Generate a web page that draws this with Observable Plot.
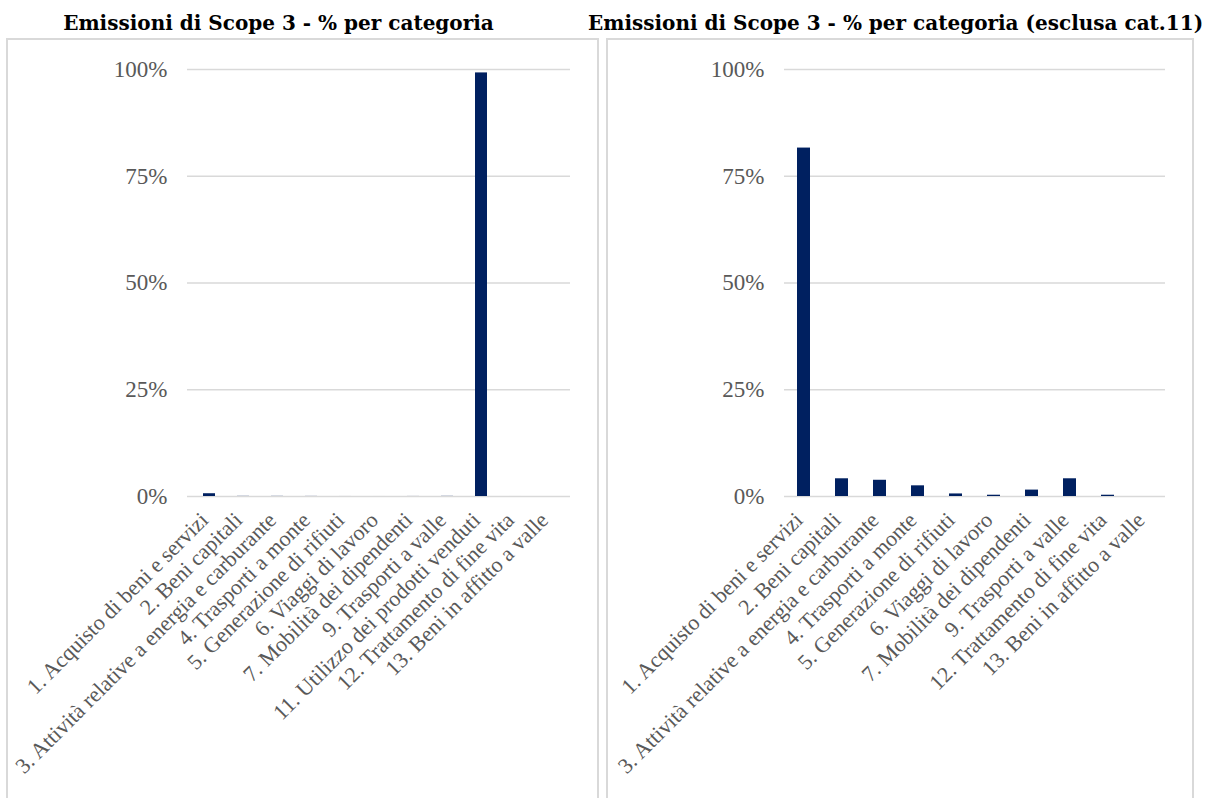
<!DOCTYPE html>
<html>
<head>
<meta charset="utf-8">
<script src="https://cdn.jsdelivr.net/npm/d3@7"></script>
<script src="https://cdn.jsdelivr.net/npm/@observablehq/plot@0.6"></script>
<style>
  html, body { margin: 0; padding: 0; background: #fff; }
  #root { position: relative; width: 1205px; height: 798px; overflow: hidden; background: #fff; }
  .title { position: absolute; top: 11px; font-family: "DejaVu Serif", serif; font-weight: bold; font-size: 20px; color: #000; white-space: nowrap; text-align: center; }
  .panel { position: absolute; top: 38px; border: 2px solid #d9d9d9; border-bottom: none; box-sizing: border-box; height: 770px; overflow: hidden; }
  .panel svg { display: block; }
</style>
</head>
<body>
<div id="root">
  <div class="title" id="t1" style="left:7px; width:543px;"></div>
  <div class="title" id="t2" style="left:588px; width:612px;"></div>
  <div class="panel" id="p1" style="left:6px; width:593px;"></div>
  <div class="panel" id="p2" style="left:606px; width:588px;"></div>
</div>
<script>
// ---- data ----
const title1 = "Emissioni di Scope 3 - % per categoria";
const title2 = "Emissioni di Scope 3 - % per categoria (esclusa cat.11)";

const categoriesAll = [
  "1. Acquisto di beni e servizi",
  "2. Beni capitali",
  "3. Attività relative a energia e carburante",
  "4. Trasporti a monte",
  "5. Generazione di rifiuti",
  "6. Viaggi di lavoro",
  "7. Mobilità dei dipendenti",
  "9. Trasporti a valle",
  "11. Utilizzo dei prodotti venduti",
  "12. Trattamento di fine vita",
  "13. Beni in affitto a valle"
];
const valuesAll = [0.65, 0.033, 0.03, 0.02, 0.005, 0.002, 0.012, 0.033, 99.2, 0.002, 0];

const categoriesExcl = [
  "1. Acquisto di beni e servizi",
  "2. Beni capitali",
  "3. Attività relative a energia e carburante",
  "4. Trasporti a monte",
  "5. Generazione di rifiuti",
  "6. Viaggi di lavoro",
  "7. Mobilità dei dipendenti",
  "9. Trasporti a valle",
  "12. Trattamento di fine vita",
  "13. Beni in affitto a valle"
];
const valuesExcl = [81.6, 4.15, 3.8, 2.5, 0.6, 0.3, 1.5, 4.15, 0.3, 0];

const yTicks = [0, 25, 50, 75, 100];

// ---- drawing ----
function chart(cats, vals, width, marginLeft, marginRight) {
  const data = cats.map((c, i) => ({cat: c, v: vals[i]}));
  return Plot.plot({
    width,
    height: 758,
    marginTop: 29,
    marginBottom: 302,
    marginLeft,
    marginRight,
    style: {fontFamily: "'Liberation Serif', serif", fontSize: "22px", color: "#595959", background: "transparent", overflow: "visible"},
    x: {domain: cats, paddingInner: 0.66, paddingOuter: 0.33, label: null},
    y: {domain: [0, 100], label: null},
    marks: [
      Plot.gridY(yTicks, {stroke: "#d9d9d9", strokeOpacity: 1, strokeWidth: 1.5}),
      Plot.axisY(yTicks, {tickSize: 0, tickPadding: 20, tickFormat: d => d + "%", fontSize: 23, label: null}),
      Plot.axisX({tickSize: 0, tickPadding: 20, dx: -5, tickRotate: -45, label: null}),
      Plot.barY(data, {x: "cat", y: "v", fill: "#002060"})
    ]
  });
}

document.getElementById("t1").textContent = title1;
document.getElementById("t2").textContent = title2;
document.getElementById("p1").appendChild(chart(categoriesAll, valuesAll, 589, 179, 27));
document.getElementById("p2").appendChild(chart(categoriesExcl, valuesExcl, 584, 176, 27));
</script>
</body>
</html>
